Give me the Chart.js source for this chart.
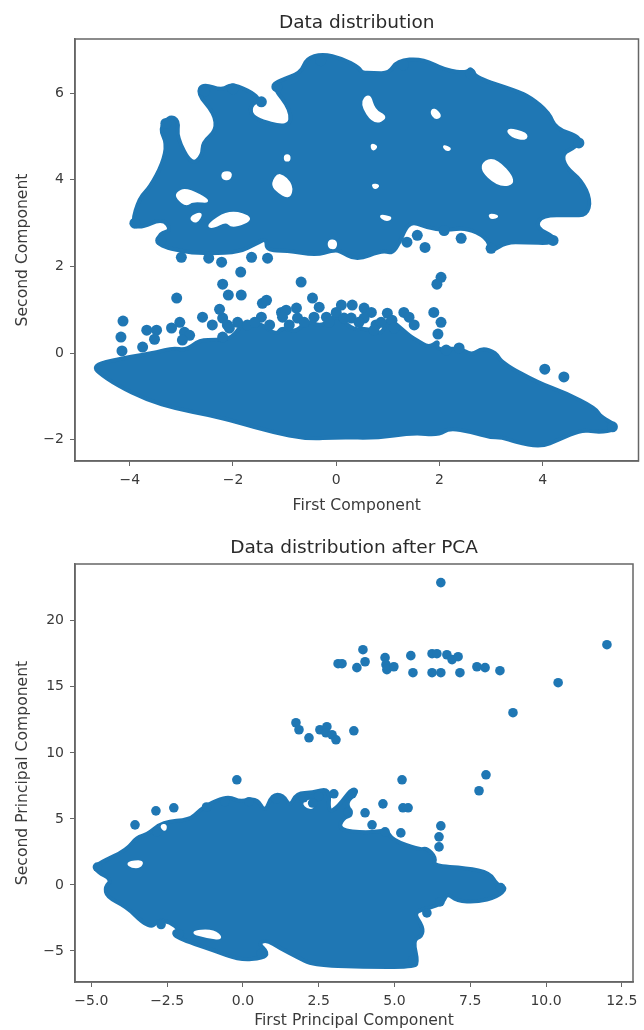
<!DOCTYPE html>
<html><head><meta charset="utf-8">
<style>
html,body{margin:0;padding:0;background:#fff;width:644px;height:1030px;overflow:hidden}
.w{position:absolute;left:0;width:644px}
canvas{filter:blur(0.6px)}
</style>
<script src="https://cdn.jsdelivr.net/npm/chart.js@4"></script>
</head><body>
<div class="w" style="top:0;height:515px"><canvas id="a"></canvas></div>
<div class="w" style="top:525px;height:505px"><canvas id="b"></canvas></div>
<script>
// ---- Data distribution ----
const topXTicks=[-4,-2,0,2,4];
const topYTicks=[-2,0,2,4,6];
const topUpperCluster=[[-3.96,3.00],[-3.81,3.59],[-3.61,3.82],[-3.36,4.38],[-3.28,4.84],[-3.42,5.18],[-3.23,5.48],[-3.05,5.37],[-3.09,4.98],[-2.80,4.33],[-2.59,4.56],[-2.59,4.86],[-2.32,5.14],[-2.36,5.53],[-2.69,5.99],[-2.59,6.22],[-2.20,6.06],[-2.01,6.24],[-1.43,5.88],[-1.68,5.71],[-1.62,5.41],[-0.91,5.18],[-0.87,5.60],[-1.24,6.17],[-1.10,6.29],[-0.68,6.47],[-0.58,6.80],[-0.27,6.91],[0.12,6.80],[0.44,6.59],[0.50,6.47],[0.70,6.47],[1.02,6.45],[1.18,6.75],[1.66,6.80],[2.13,6.52],[2.53,6.47],[2.61,6.59],[2.70,6.36],[3.48,6.06],[3.77,5.90],[4.12,5.55],[4.25,5.18],[4.75,4.98],[4.64,4.75],[4.37,4.61],[4.44,4.29],[4.75,3.99],[4.93,3.53],[4.85,3.18],[4.56,3.18],[3.98,3.18],[3.86,2.90],[4.25,2.67],[4.17,2.53],[3.67,2.56],[3.28,2.56],[3.01,2.33],[2.92,2.67],[2.51,2.90],[2.13,2.83],[1.74,2.90],[1.41,3.06],[1.22,2.53],[1.08,2.30],[0.89,2.37],[0.39,2.14],[0.06,2.37],[-0.08,2.37],[-0.39,2.26],[-0.97,2.37],[-1.35,2.37],[-1.35,2.65],[-1.55,2.53],[-1.87,2.33],[-2.45,2.30],[-2.90,2.33],[-3.48,2.49],[-3.42,2.76],[-3.19,2.83],[-3.36,3.11],[-3.81,2.88]];
const topLowerCluster=[[-4.68,-0.32],[-4.52,-0.21],[-3.81,-0.05],[-3.48,0.02],[-3.17,0.12],[-2.90,0.07],[-2.65,0.30],[-2.32,0.30],[-2.01,0.35],[-1.82,0.69],[-1.49,0.71],[-1.16,0.41],[-1.06,0.60],[-0.77,0.48],[-0.58,0.76],[-0.27,0.60],[0,0.92],[0.31,0.53],[0.58,0.58],[0.89,0.41],[0.99,0.83],[1.18,0.65],[1.45,0.37],[1.56,0.30],[1.80,0.12],[1.99,0.30],[1.93,0.07],[2.38,0.12],[2.63,-0.05],[2.82,0.12],[3.09,0.02],[3.21,-0.23],[3.92,-0.69],[4.44,-0.92],[5.02,-1.27],[5.12,-1.47],[5.43,-1.66],[5.33,-1.80],[5.02,-1.82],[4.75,-1.77],[4.31,-2.00],[3.96,-2.17],[3.48,-2.05],[3.21,-1.94],[2.96,-1.94],[2.63,-1.82],[2.18,-1.73],[1.99,-1.89],[1.47,-1.84],[0.77,-1.96],[0.06,-1.94],[-0.58,-1.98],[-1.24,-1.82],[-1.93,-1.59],[-2.45,-1.43],[-3.09,-1.29],[-3.67,-1.08],[-4.25,-0.74],[-4.62,-0.44]];
const topGaps=[
[[-3.09,3.69],[-2.90,3.80],[-2.40,3.48],[-2.78,3.53],[-2.90,3.41],[-3.07,3.57]],
[[-2.84,3.13],[-2.59,3.25],[-2.71,3.00]],
[[-2.49,2.95],[-2.07,3.29],[-1.58,3.11],[-2.01,2.90],[-2.13,3.06],[-2.40,2.90]],
[[-2.20,4.17],[-2.03,4.17],[-2.07,4.01],[-2.20,4.03]],
[[-1.24,3.92],[-1.10,4.17],[-0.85,3.87],[-0.91,3.57],[-1.16,3.76]],
[[-0.99,4.56],[-0.91,4.56],[-0.91,4.45],[-0.99,4.45]],
[[0.64,5.99],[0.73,5.60],[0.99,5.44],[0.73,5.30],[0.48,5.76]],
[[1.89,5.64],[2.03,5.48],[1.93,5.41],[1.84,5.55]],
[[3.30,5.18],[3.69,5.07],[3.67,4.93],[3.40,5.00]],
[[2.76,4.29],[3.05,4.54],[3.50,3.94],[3.15,3.85]],
[[0.83,3.18],[1.08,3.13],[0.97,3.06]],
[[2.96,3.20],[3.15,3.16],[3.01,3.11]],
[[0.68,4.82],[0.79,4.77],[0.71,4.68]],
[[0.70,3.89],[0.83,3.87],[0.75,3.80]],
[[2.07,4.79],[2.22,4.72],[2.14,4.68]],
[[-0.14,2.60],[0,2.58],[-0.02,2.42],[-0.14,2.44]]];
const topPoints=[[-4.13,0.74],[-4.17,0.37],[-4.15,0.05],[-3.67,0.53],[-3.48,0.53],[-3.52,0.32],[-3.75,0.14],[-3.19,0.58],[-3.03,0.71],[-2.94,0.48],[-2.84,0.41],[-2.98,0.30],[-3.09,1.27],[-2.59,0.83],[-2.40,0.65],[-2.20,0.81],[-2.11,0.65],[-2.26,1.01],[-2.20,0.37],[-2.20,1.59],[-2.09,1.34],[-1.84,1.34],[-1.85,1.87],[-1.91,0.71],[-1.45,0.83],[-1.29,0.65],[-1.43,1.15],[-1.35,1.22],[-1.06,0.94],[-0.97,0.99],[-1.04,0.83],[-0.68,1.64],[-0.77,1.04],[-0.75,0.81],[-0.46,1.27],[-0.33,1.06],[-0.43,0.83],[-0.19,0.83],[0.10,1.11],[0,0.94],[0.31,1.11],[0.29,0.81],[0.54,1.04],[0.68,0.94],[0.54,0.81],[0.77,0.65],[0.87,0.71],[0.99,0.92],[1.08,0.76],[1.31,0.94],[1.41,0.83],[1.51,0.65],[1.89,0.94],[2.03,0.71],[1.97,0.44],[2.03,1.75],[1.95,1.59],[4.04,-0.37],[4.41,-0.55],[2.38,0.12],[2.13,0.07],[-3.00,2.21],[-2.47,2.19],[-2.22,2.10],[-1.64,2.21],[-1.33,2.19],[1.72,2.44],[1.37,2.56],[1.57,2.72],[2.42,2.65],[2.09,2.83],[3.00,2.42],
[-2.07,0.58],[-1.72,0.65],[-1.58,0.71],[-0.91,0.65],[-0.62,0.71],[-0.14,0.71],[0.15,0.81],[0.44,0.71],[0.73,0.53],[1.12,0.58],
[-3.30,5.30],[-2.55,6.05],[-2.00,6.10],[-1.45,5.80],[-1.15,6.15],[4.70,4.85],[4.20,2.60],[-3.90,3.00],[-3.40,2.60],[2.60,6.45],[1.30,6.65],[-0.30,6.75],[5.35,-1.70]];
// ---- Data distribution after PCA ----
const pcaXTicks=[-5,-2.5,0,2.5,5,7.5,10,12.5];
const pcaYTicks=[-5,0,5,10,15,20];
const pcaCluster=[[-4.88,1.36],[-4.72,1.67],[-3.83,2.65],[-3.50,3.64],[-3.17,3.79],[-2.64,4.78],[-1.75,4.93],[-1.42,5.69],[-0.86,6.44],[-0.43,6.67],[-0.10,6.29],[0.46,6.59],[0.73,5.46],[0.96,6.82],[1.32,6.82],[1.55,5.91],[1.78,6.97],[2.28,6.97],[2.87,7.35],[2.81,5.46],[3.14,5.91],[3.60,7.35],[3.80,7.05],[3.37,6.22],[3.63,5.31],[3.30,5.08],[3.14,4.17],[4.09,3.94],[4.75,4.17],[4.92,3.41],[5.84,2.65],[6.07,2.80],[6.37,2.05],[6.27,1.44],[7.39,1.29],[8.15,0.91],[8.38,0],[8.71,-0.23],[8.38,-0.91],[7.72,-1.29],[7.06,-1.21],[6.73,-0.61],[6.60,-1.36],[6.17,-1.74],[5.61,-2.05],[5.94,-3.18],[5.91,-3.87],[5.61,-4.17],[5.78,-5.91],[5.61,-6.22],[3.96,-6.22],[2.31,-6.06],[1.78,-5.46],[1.22,-4.78],[0.79,-4.17],[0.50,-4.40],[0.83,-5.15],[0.66,-5.53],[-0.10,-5.69],[-0.99,-4.93],[-2.18,-4.02],[-2.31,-3.56],[-2.08,-3.41],[-2.41,-2.80],[-2.81,-2.65],[-2.97,-3.18],[-3.30,-2.88],[-3.83,-1.67],[-4.49,-0.91],[-4.55,-0.15],[-4.32,0.38],[-4.79,0.99]];
const pcaGaps=[
[[-3.83,1.67],[-3.30,1.82],[-3.40,1.36],[-3.66,1.36]],
[[-1.75,-3.56],[-0.99,-3.41],[-0.66,-4.09],[-1.19,-3.94]],
[[1.98,6.22],[2.31,6.44],[2.31,5.84],[2.15,5.84]],
[[-2.71,4.47],[-2.54,4.55],[-2.57,4.09]]];
const pcaPoints=[[-3.56,4.55],[-2.87,5.61],[-2.28,5.84],[-0.20,7.96],[-2.84,4.02],[4.62,6.14],[5.45,5.84],[5.28,5.84],[4.03,5.46],[3.47,5.53],[4.26,4.55],[5.21,3.94],[4.69,4.02],[6.53,4.47],[6.47,3.64],[6.47,2.88],[7.79,7.13],[5.25,7.96],[6.07,-2.12],[6.50,-1.29],[6.53,22.89],[12.01,18.19],[10.40,15.31],[8.91,13.04],[8.02,8.34],[3.96,17.81],[4.03,16.90],[3.76,16.45],[3.14,16.75],[3.27,16.75],[4.69,17.21],[4.72,16.68],[4.75,16.30],[4.98,16.52],[5.54,17.36],[5.61,16.07],[6.24,17.51],[6.40,17.51],[6.24,16.07],[6.53,16.07],[6.73,17.43],[6.90,17.06],[7.10,17.28],[7.16,16.07],[7.72,16.52],[7.99,16.45],[8.48,16.22],[1.75,12.28],[1.85,11.75],[2.18,11.14],[2.54,11.75],[2.77,11.98],[2.74,11.52],[2.94,11.37],[3.07,10.99],[3.66,11.67],
[-1.20,5.90],[-0.60,6.30],[0.20,6.30],[1.10,6.50],[2.00,6.60],[2.50,6.70],[3.00,6.90],[3.60,6.90],[-4.80,1.35],[8.50,-0.20],[-2.70,-3.00],[0.60,-5.20],[-2.10,-3.70],[5.60,-5.70],[2.30,6.20]];

const BLUE='#1f77b4', INK='#3a3a3a', EDGE='#666666';
const pts=a=>a.map(p=>({x:p[0],y:p[1]}));
const minus=v=>String(v).replace('-','\u2212');
const frame={id:'frame',afterDraw(c){const a=c.chartArea,g=c.ctx;g.save();g.strokeStyle=EDGE;g.lineWidth=1.5;g.strokeRect(a.left,a.top,a.width,a.height);g.restore();}};
// Fills each outlined region through the pixel positions Chart.js computed for its points,
// rounding corners with curves through the edge midpoints.
const regions={id:'regions',beforeDatasetsDraw(c){
 const g=c.ctx,a=c.chartArea;g.save();g.beginPath();g.rect(a.left,a.top,a.width,a.height);g.clip();
 c.data.datasets.forEach((d,i)=>{ if(!d.regionColor) return;
  const el=c.getDatasetMeta(i).data,n=el.length;g.beginPath();
  const mid=(p,q)=>({x:(p.x+q.x)/2,y:(p.y+q.y)/2});
  const s=mid(el[n-1],el[0]);g.moveTo(s.x,s.y);
  el.forEach((p,k)=>{const m=mid(p,el[(k+1)%n]);g.quadraticCurveTo(p.x,p.y,m.x,m.y);});
  g.closePath();
  g.fillStyle=g.strokeStyle=d.regionColor;g.lineJoin='round';g.lineWidth=d.regionEdge;g.fill();g.stroke();});
 g.restore();}};
const region=(arr,color,edge)=>({data:pts(arr),regionColor:color,regionEdge:edge,pointRadius:0,showLine:false});

function build(id,o){
 const ds=[];
 o.clusters.forEach(c=>ds.push(region(c,BLUE,4)));
 o.gaps.forEach(g=>ds.push(region(g,'#ffffff',2.6)));
 ds.push({data:pts(o.points),backgroundColor:BLUE,borderColor:BLUE,borderWidth:0,pointRadius:o.r});
 new Chart(document.getElementById(id),{type:'scatter',plugins:[regions,frame],data:{datasets:ds},options:{
  responsive:true,maintainAspectRatio:false,animation:false,
  layout:{padding:{left:0,right:o.right,top:0,bottom:0}},
  plugins:{legend:{display:false},tooltip:{enabled:false},
   title:{display:true,fullSize:false,text:o.title,color:'#2a2a2a',font:{family:'DejaVu Sans',size:18.5,weight:'normal'},padding:{top:12,bottom:4.8}}},
  scales:{
   x:{type:'linear',min:o.xr[0],max:o.xr[1],
    afterFit(s){s.height=o.xh;},
    afterBuildTicks(s){s.ticks=o.xt.map(v=>({value:v}));},
    grid:{drawOnChartArea:false,drawTicks:true,tickLength:5,color:EDGE},border:{color:EDGE,width:1.5},
    ticks:{color:INK,font:{family:'DejaVu Sans',size:14},padding:6,maxRotation:0,autoSkip:false,callback:v=>minus(o.fx(v))},
    title:{display:true,text:o.xl,color:INK,font:{family:'DejaVu Sans',size:15.6},padding:{top:o.xlPad,bottom:0}}},
   y:{type:'linear',min:o.yr[0],max:o.yr[1],
    afterFit(s){s.width=75;},
    afterBuildTicks(s){s.ticks=o.yt.map(v=>({value:v}));},
    grid:{drawOnChartArea:false,drawTicks:true,tickLength:5,color:EDGE},border:{color:EDGE,width:1.5},
    ticks:{color:INK,font:{family:'DejaVu Sans',size:14},padding:6,autoSkip:false,callback:v=>minus(v)},
    title:{display:true,text:o.yl,color:INK,font:{family:'DejaVu Sans',size:15.6},padding:{top:13.5,bottom:0}}}
  }}});
}
build('a',{title:'Data distribution',right:4,
 xr:[-5.06,5.855],yr:[-2.49,7.25],xt:topXTicks,yt:topYTicks,fx:v=>v,xh:54,xlPad:4,
 xl:'First Component',yl:'Second Component',r:5.5,
 clusters:[topUpperCluster,topLowerCluster],gaps:topGaps,points:topPoints});
build('b',{title:'Data distribution after PCA',right:11,
 xr:[-5.54,12.87],yr:[-7.35,24.3],xt:pcaXTicks,yt:pcaYTicks,fx:v=>v.toFixed(1),xh:48,xlPad:0,
 xl:'First Principal Component',yl:'Second Principal Component',r:4.8,
 clusters:[pcaCluster],gaps:pcaGaps,points:pcaPoints});
</script>
</body></html>
